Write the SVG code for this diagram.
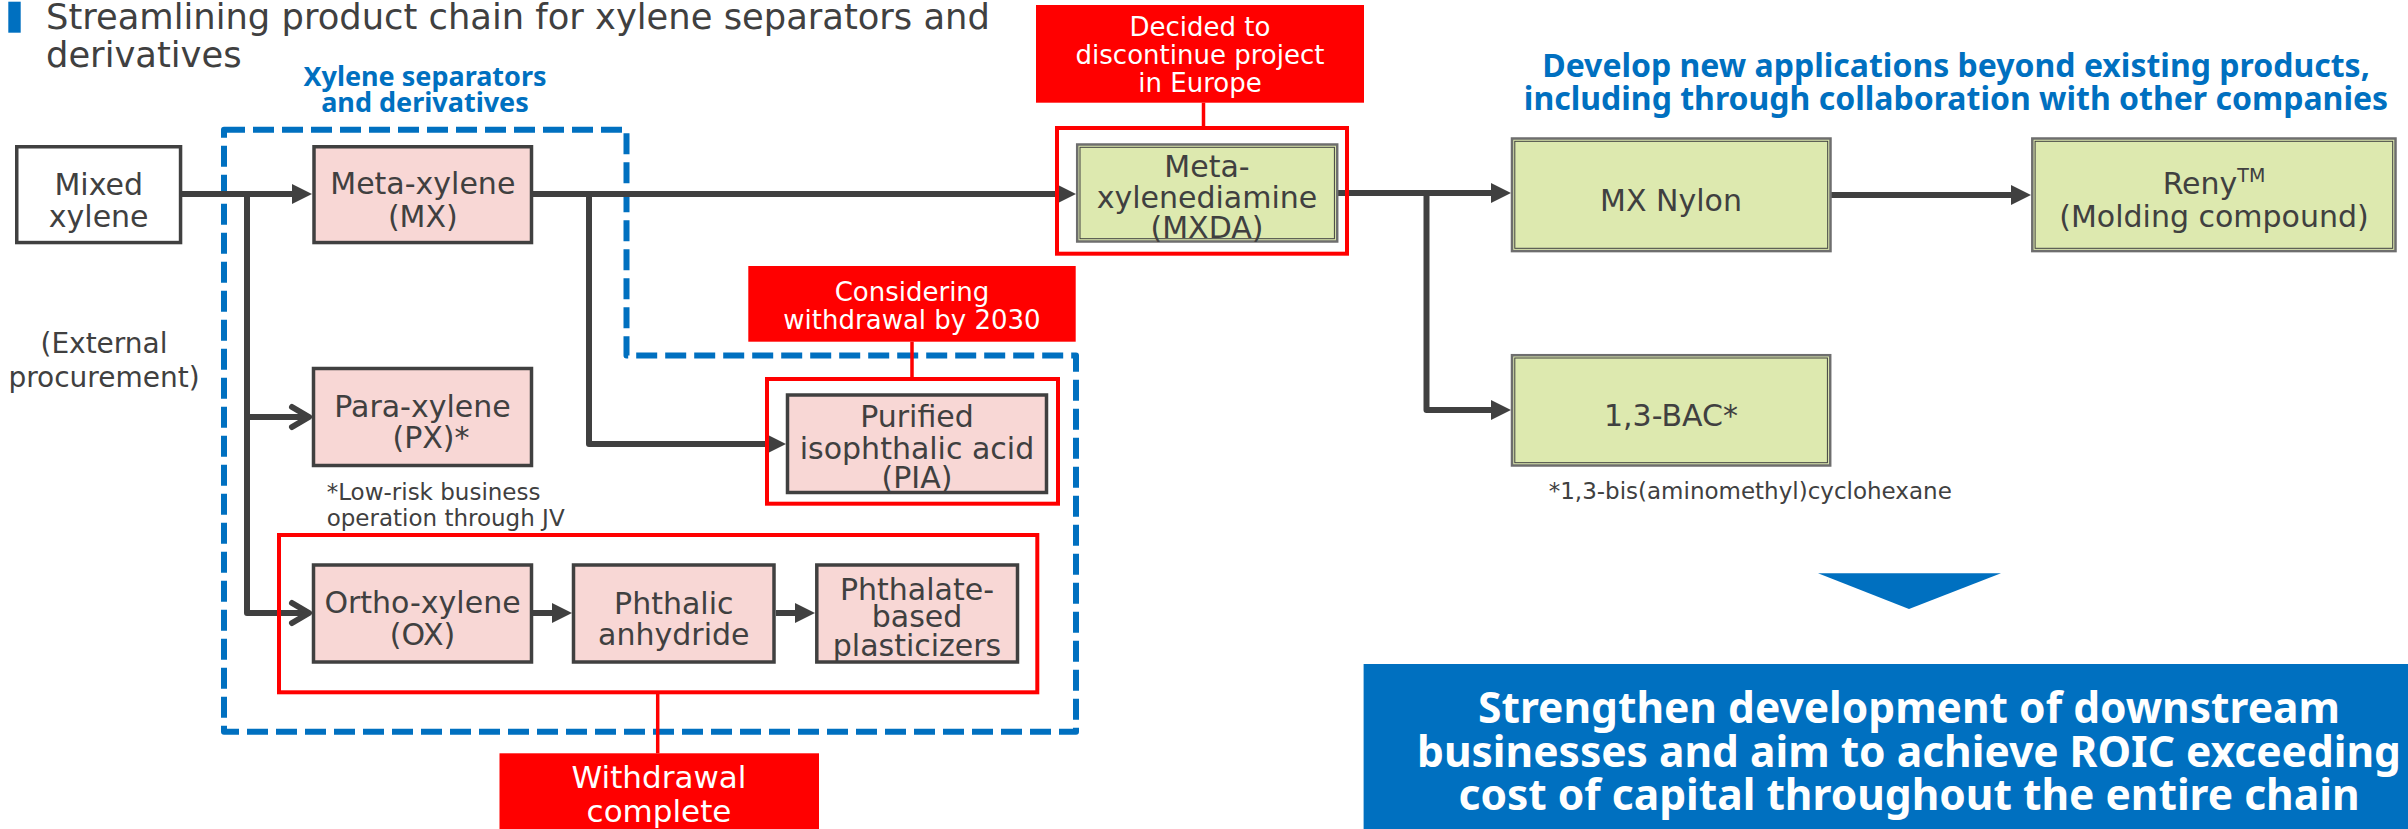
<svg xmlns="http://www.w3.org/2000/svg" width="2408" height="829" viewBox="0 0 2408 829">
<style>
.t{font-family:"DejaVu Sans","Liberation Sans",sans-serif;fill:#404040;}
.box{font-size:30px;text-anchor:middle;}
.pink{fill:#f8d7d5;stroke:#404040;stroke-width:3.5;}
.white{fill:#ffffff;stroke:#404040;stroke-width:3.5;}
.green{fill:#dde9af;stroke:#6e6e6e;stroke-width:2.5;}
.greenin{fill:none;stroke:#404040;stroke-width:1;}
.frame{fill:none;stroke:#ff0000;stroke-width:4;}
.redbox{fill:#ff0000;}
.redtxt{font-family:"DejaVu Sans","Liberation Sans",sans-serif;fill:#ffffff;text-anchor:middle;}
.call{stroke:#ff0000;stroke-width:3.5;fill:none;}
.conn{stroke:#404040;stroke-width:6;fill:none;stroke-linejoin:round;}
.blueb{font-family:"Noto Sans","DejaVu Sans",sans-serif;font-weight:bold;fill:#0070c0;text-anchor:middle;}
.wb{font-family:"Noto Sans","DejaVu Sans",sans-serif;font-weight:bold;fill:#ffffff;text-anchor:middle;font-size:42.5px;}
.note{font-size:23px;}
</style>
<defs>
<marker id="tri" markerUnits="userSpaceOnUse" viewBox="0 0 20 22" markerWidth="20" markerHeight="22" refX="1" refY="11" orient="auto">
<path d="M0,1 L20,11 L0,21 Z" fill="#404040"/>
</marker>
<marker id="chev" markerUnits="userSpaceOnUse" viewBox="-24 -15 28 30" markerWidth="28" markerHeight="30" refX="0" refY="0" orient="auto" overflow="visible">
<path d="M-17,-10 L0,0 L-17,10" fill="none" stroke="#404040" stroke-width="6" stroke-linecap="round" stroke-linejoin="round"/>
</marker>
</defs>

<rect x="0" y="0" width="2408" height="829" fill="#ffffff"/>

<g id="title">
<rect x="8.3" y="1.7" width="12.4" height="31" fill="#0070c0"/>
<text class="t" x="46" y="29.3" font-size="35.3">Streamlining product chain for xylene separators and</text>
<text class="t" x="46" y="66.7" font-size="35.3">derivatives</text>
</g>

<g id="group-xylene">
<path d="M224,129.7 H626.5 V355.5 H1076 V731.7 H224 Z" fill="none" stroke="#0070c0" stroke-width="6" stroke-dasharray="21 8" stroke-linejoin="round"/>
<text class="blueb" x="425" y="86" font-size="27">Xylene separators</text>
<text class="blueb" x="425" y="112" font-size="27">and derivatives</text>
</g>

<g id="connectors">
<path class="conn" d="M182,194 H293" marker-end="url(#tri)"/>
<path class="conn" d="M247,194 V613 H309" marker-end="url(#chev)"/>
<path class="conn" d="M247,417 H309" marker-end="url(#chev)"/>
<path class="conn" d="M533,194 H1057" marker-end="url(#tri)"/>
<path class="conn" d="M589,194 V444 H767" marker-end="url(#tri)"/>
<path class="conn" d="M533,613 H553" marker-end="url(#tri)"/>
<path class="conn" d="M776,613 H796" marker-end="url(#tri)"/>
<path class="conn" d="M1338,193 H1492" marker-end="url(#tri)"/>
<path class="conn" d="M1426.5,193 V410 H1492" marker-end="url(#tri)"/>
<path class="conn" d="M1831,195 H2012" marker-end="url(#tri)"/>
<path class="call" d="M1203.5,102.7 V126"/>
<path class="call" d="M912,341.7 V377"/>
<path class="call" d="M657.7,692.3 V753.3"/>
</g>

<g id="external">
<text class="t" x="104" y="353.3" font-size="28" text-anchor="middle">(External</text>
<text class="t" x="104" y="386.7" font-size="28" text-anchor="middle">procurement)</text>
</g>

<g id="mixed-xylene">
<rect class="white" x="16.75" y="146.75" width="163.8" height="95.8"/>
<text class="t box" x="98.7" y="195">Mixed</text>
<text class="t box" x="98.7" y="227">xylene</text>
</g>

<g id="mx">
<rect class="pink" x="314" y="146.75" width="217.5" height="95.8"/>
<text class="t box" x="422.8" y="194">Meta-xylene</text>
<text class="t box" x="422.8" y="227">(MX)</text>
</g>

<g id="px">
<rect class="pink" x="313.5" y="368.5" width="218" height="97"/>
<text class="t box" x="422.5" y="416.7">Para-xylene</text>
<text class="t box" x="431" y="448.3">(PX)*</text>
<text class="t note" x="326.7" y="500">*Low-risk business</text>
<text class="t note" x="326.7" y="525.7">operation through JV</text>
</g>

<g id="withdrawal-frame">
<rect class="frame" x="279" y="535" width="758.3" height="157.3"/>
</g>

<g id="ox">
<rect class="pink" x="313.5" y="565" width="218" height="97"/>
<text class="t box" x="422.5" y="613.3">Ortho-xylene</text>
<text class="t box" x="422.5" y="645">(OX)</text>
</g>

<g id="phthalic">
<rect class="pink" x="573.5" y="565" width="200.5" height="97"/>
<text class="t box" x="673.8" y="614">Phthalic</text>
<text class="t box" x="673.8" y="645">anhydride</text>
</g>

<g id="phthalate">
<rect class="pink" x="816.8" y="565" width="200.7" height="97"/>
<text class="t box" x="917" y="600" font-size="27">Phthalate-</text>
<text class="t box" x="917" y="627.3" font-size="27">based</text>
<text class="t box" x="917" y="655.7" font-size="27">plasticizers</text>
</g>

<g id="withdrawal-complete">
<rect class="redbox" x="499.5" y="753.3" width="319.5" height="80"/>
<text class="redtxt" x="659" y="788.3" font-size="31">Withdrawal</text>
<text class="redtxt" x="659" y="821.7" font-size="31">complete</text>
</g>

<g id="pia">
<rect class="frame" x="767" y="379" width="291" height="124.7"/>
<rect class="pink" x="787.5" y="395" width="259" height="97.5"/>
<text class="t box" x="917" y="427.3">Purified</text>
<text class="t box" x="917" y="459">isophthalic acid</text>
<text class="t box" x="917" y="488.3">(PIA)</text>
</g>

<g id="considering">
<rect class="redbox" x="748.3" y="266" width="327.4" height="75.7"/>
<text class="redtxt" x="912" y="300.7" font-size="26">Considering</text>
<text class="redtxt" x="912" y="329" font-size="26">withdrawal by 2030</text>
</g>

<g id="decided">
<rect class="redbox" x="1036" y="5" width="328" height="97.7"/>
<text class="redtxt" x="1200" y="36" font-size="26">Decided to</text>
<text class="redtxt" x="1200" y="64.3" font-size="26">discontinue project</text>
<text class="redtxt" x="1200" y="91.7" font-size="26">in Europe</text>
</g>

<g id="mxda">
<rect class="frame" x="1057" y="128" width="290" height="125.7"/>
<rect class="green" x="1077.2" y="144.5" width="260" height="97"/>
<rect class="greenin" x="1080" y="147.3" width="254.4" height="91.4"/>
<text class="t box" x="1207" y="176.7">Meta-</text>
<text class="t box" x="1207" y="208.3">xylenediamine</text>
<text class="t box" x="1207" y="238.3">(MXDA)</text>
</g>

<g id="develop-note">
<text class="blueb" x="1956" y="77.3" font-size="32">Develop new applications beyond existing products,</text>
<text class="blueb" x="1956" y="110" font-size="32">including through collaboration with other companies</text>
</g>

<g id="mx-nylon">
<rect class="green" x="1512" y="138.5" width="318.5" height="112.6"/>
<rect class="greenin" x="1514.8" y="141.3" width="312.9" height="107"/>
<text class="t box" x="1671" y="210.7">MX Nylon</text>
</g>

<g id="reny">
<rect class="green" x="2032.3" y="138.5" width="363.2" height="112.6"/>
<rect class="greenin" x="2035.1" y="141.3" width="357.6" height="107"/>
<text class="t box" x="2214" y="194">Reny<tspan font-size="19" dy="-12">TM</tspan></text>
<text class="t box" x="2214" y="227.3">(Molding compound)</text>
</g>

<g id="bac">
<rect class="green" x="1512" y="355.2" width="318.2" height="110.3"/>
<rect class="greenin" x="1514.8" y="358" width="312.6" height="104.7"/>
<text class="t box" x="1671" y="426">1,3-BAC*</text>
<text class="t note" x="1548.7" y="499">*1,3-bis(aminomethyl)cyclohexane</text>
</g>

<g id="conclusion">
<path d="M1818,573.3 L2001,573.3 L1909,609 Z" fill="#0070c0"/>
<rect x="1363.6" y="664" width="1044.4" height="165" fill="#0070c0"/>
<text class="wb" x="1909" y="723.3">Strengthen development of downstream</text>
<text class="wb" x="1909" y="766.7">businesses and aim to achieve ROIC exceeding</text>
<text class="wb" x="1909" y="810">cost of capital throughout the entire chain</text>
</g>
</svg>
